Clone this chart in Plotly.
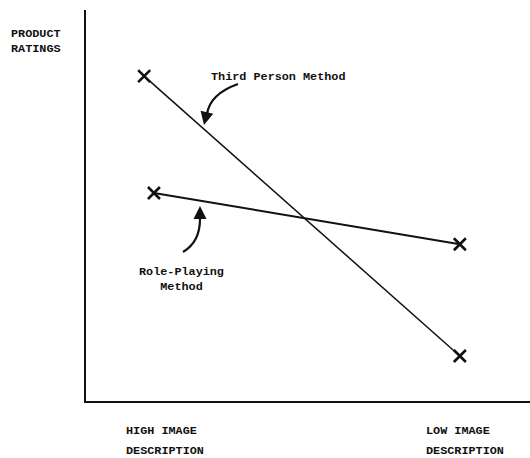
import plotly.graph_objects as go

# ---- data (arbitrary rating scale 0-10, position scale 0-10) ----
conditions = ["High image description", "Low image description"]
third_person_x = [1.31, 8.42]
third_person_y = [8.31, 1.15]
role_playing_x = [1.53, 8.42]
role_playing_y = [5.32, 4.01]
x_tick_lines = [["HIGH IMAGE", "DESCRIPTION"], ["LOW IMAGE", "DESCRIPTION"]]
y_title = "PRODUCT<br>RATINGS"
series_names = ["Third Person Method", "Role-Playing<br>Method"]

W, H = 530, 458
L, R, T, B = 86, 0, 10, 57
FONT = "Liberation Mono, Courier New, monospace"
INK = "#111111"
PW, PH = W - L - R, H - T - B

def px_x(px):
    return (px - L) / PW * 10

def px_y(py):
    return (H - B - py) / PH * 10

def pp_x(px):
    return (px - L) / PW

def pp_y(py):
    return (H - B - py) / PH

fig = go.Figure()
fig.add_trace(go.Scatter(
    x=third_person_x, y=third_person_y, mode="lines+markers",
    line=dict(color=INK, width=1.5),
    marker=dict(symbol="x-thin", size=12, line=dict(color=INK, width=2.6)),
    name=series_names[0], showlegend=False))
fig.add_trace(go.Scatter(
    x=role_playing_x, y=role_playing_y, mode="lines+markers",
    line=dict(color=INK, width=2),
    marker=dict(symbol="x-thin", size=12, line=dict(color=INK, width=2.6)),
    name=series_names[1], showlegend=False))

tfont = dict(family=FONT, size=11.8, color=INK, weight="bold")
ann = []
ann.append(dict(x=pp_x(9), y=pp_y(42), xref="paper", yref="paper", text=y_title,
                showarrow=False, xanchor="left", yanchor="middle", align="left",
                font=tfont))
ann.append(dict(x=pp_x(209), y=pp_y(77), xref="paper", yref="paper", text=series_names[0],
                showarrow=False, xanchor="left", yanchor="middle", font=tfont))
ann.append(dict(x=pp_x(181), y=pp_y(279), xref="paper", yref="paper", text=series_names[1],
                showarrow=False, xanchor="center", yanchor="middle", align="center",
                font=tfont))
for lines, xpx in zip(x_tick_lines, [124, 424]):
    for line, ypx in zip(lines, [431, 451]):
        ann.append(dict(x=pp_x(xpx), y=pp_y(ypx), xref="paper", yref="paper", text=line,
                        showarrow=False, xanchor="left", yanchor="middle", align="left",
                        font=tfont))
# arrowheads
ann.append(dict(x=px_x(204), y=px_y(125), ax=px_x(207), ay=px_y(112), xref="x", yref="y",
                axref="x", ayref="y", text="", showarrow=True, arrowhead=2,
                arrowsize=1.3, arrowwidth=2, arrowcolor=INK))
ann.append(dict(x=px_x(200), y=px_y(206), ax=px_x(200), ay=px_y(221), xref="x", yref="y",
                axref="x", ayref="y", text="", showarrow=True, arrowhead=2,
                arrowsize=1.3, arrowwidth=2, arrowcolor=INK))

def qpath(p0, c, p1):
    return "M %f,%f Q %f,%f %f,%f" % (px_x(p0[0]), px_y(p0[1]), px_x(c[0]), px_y(c[1]),
                                      px_x(p1[0]), px_y(p1[1]))

shapes = [
    dict(type="path", xref="x", yref="y", path=qpath((238, 84), (210, 94), (207, 114)),
         line=dict(color=INK, width=2.2)),
    dict(type="path", xref="x", yref="y", path=qpath((183, 252), (200, 242), (200, 219)),
         line=dict(color=INK, width=2.2)),
]

fig.update_layout(
    width=W, height=H, margin=dict(l=L, r=R, t=T, b=B),
    paper_bgcolor="white", plot_bgcolor="white",
    annotations=ann, shapes=shapes, showlegend=False,
    xaxis=dict(range=[0, 10], showline=True, linecolor=INK, linewidth=2,
               showgrid=False, zeroline=False, showticklabels=False, ticks=""),
    yaxis=dict(range=[0, 10], showline=True, linecolor=INK, linewidth=2,
               showgrid=False, zeroline=False, showticklabels=False, ticks=""),
)
fig.write_html("out.html", config={"displayModeBar": False},
               post_script="document.body.style.margin='0';document.body.style.overflow='hidden';")
